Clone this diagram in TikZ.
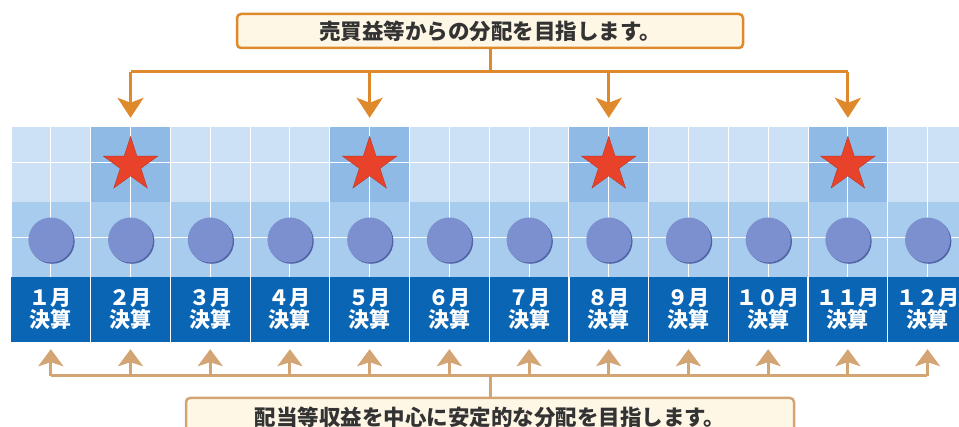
\documentclass[tikz,border=0pt]{standalone}
\usepackage{fontspec}
\newfontfamily\jp{Noto Sans CJK JP}
\usetikzlibrary{arrows.meta,shapes.geometric,shadows}
\definecolor{lightband}{HTML}{CCE1F5}
\definecolor{midband}{HTML}{A8CCEE}
\definecolor{hiband}{HTML}{8FBAE6}
\definecolor{darkband}{HTML}{0B65B5}
\definecolor{starred}{HTML}{E8432A}
\definecolor{circfill}{HTML}{7C90CF}
\definecolor{circshadow}{HTML}{4F63A6}
\definecolor{toporange}{HTML}{DE8A2C}
\definecolor{bottan}{HTML}{D3A575}
\definecolor{cream}{HTML}{FFF7E6}
\definecolor{boxtext}{HTML}{333333}
\tikzset{
  monthlabel/.style={text=white, align=center, inner sep=0pt,
    minimum width=79.7pt, minimum height=65pt,
    font=\jp\bfseries\fontsize{21}{22}\selectfont},
  dot/.style={circle, fill=circfill, minimum size=45pt, inner sep=0pt,
    drop shadow={shadow xshift=1.3pt, shadow yshift=-1.3pt, fill=circshadow, opacity=1}},
  redstar/.style={star, star points=5, star point ratio=2.618, fill=starred,
    draw=starred!80!black, line width=0.4pt, minimum size=57pt, inner sep=0pt},
  hicell/.style={fill=hiband, minimum width=79.7pt, minimum height=75pt, inner sep=0pt},
  msgbox/.style={rounded corners=4pt, line width=2.5pt, fill=cream, inner sep=0pt,
    text=boxtext, font=\jp\bfseries\fontsize{21.5}{22}\selectfont},
  toparrow/.style={draw=toporange, line width=3pt, -{Stealth[length=20pt,width=26pt,inset=5pt]}},
  topline/.style={draw=toporange, line width=3pt},
  botarrow/.style={draw=bottan, line width=3pt, -{Stealth[length=17pt,width=25pt,inset=4pt]}},
  botline/.style={draw=bottan, line width=3pt},
  gridline/.style={draw=white, line width=1pt},
}
\begin{document}
\begin{tikzpicture}[x=1pt,y=-1pt]
\useasboundingbox (0,0) rectangle (959,427);
\clip (0,0) rectangle (959,427);
% bands
\fill[lightband] (11,127) rectangle (980,202);
\fill[midband] (11,202) rectangle (980,277);
\foreach \c in {2,5,8,11}
  \node[hicell] (hc\c) at ({11+79.7*(\c-0.5)},164.5) {};
% grid lines
\foreach \i in {0,...,24}
  \draw[gridline] ({11+39.85*\i},127) -- ({11+39.85*\i},277);
\draw[gridline] (11,163) -- (980,163);
\draw[gridline] (11,238) -- (980,238);
\fill[darkband] (11,277) rectangle (980,342);
\foreach \i in {1,...,12}
  \draw[white, line width=1.2pt] ({11+79.7*\i},277) -- ({11+79.7*\i},342);
% stars
\foreach \c in {2,5,8,11}
  \node[redstar] (s\c) at ({11+79.7*(\c-0.5)},165) {};
% circles and labels
\foreach \c/\t in {1/１,2/２,3/３,4/４,5/５,6/６,7/７,8/８,9/９,10/１０,11/１１,12/１２}{
  \node[dot] (c\c) at ({11+79.7*(\c-0.5)},240) {};
  \node[monthlabel] (m\c) at ({11+79.7*(\c-0.5)},309.5) {\t 月\\決算};
}
% top message
\node[msgbox, draw=toporange, minimum width=506pt, minimum height=34pt] (topbox) at (490,31)
  {売買益等からの分配を目指します。};
\coordinate (tj) at (490,72);
\draw[topline] (topbox.south) -- (tj);
\coordinate (tl) at (130.55,72);
\coordinate (tr) at (847.55,72);
\draw[topline] (tl) -- (tr);
\foreach \c in {2,5,8,11}{
  \coordinate (ta\c) at ({11+79.7*(\c-0.5)},72);
  \draw[toparrow, shorten >=9pt] (ta\c) -- (hc\c.north);
}
% bottom message
\node[msgbox, draw=bottan, minimum width=608pt, minimum height=38pt] (botbox) at (490,417)
  {配当等収益を中心に安定的な分配を目指します。};
\coordinate (bj) at (490,376);
\draw[botline] (botbox.north) -- (bj);
\coordinate (bl) at (50.85,376);
\coordinate (br) at (927.25,376);
\draw[botline] (bl) -- (br);
\foreach \c in {1,...,12}{
  \coordinate (ba\c) at ({11+79.7*(\c-0.5)},376);
  \draw[botarrow, shorten >=7pt] (ba\c) -- (m\c.south);
}
\end{tikzpicture}
\end{document}
